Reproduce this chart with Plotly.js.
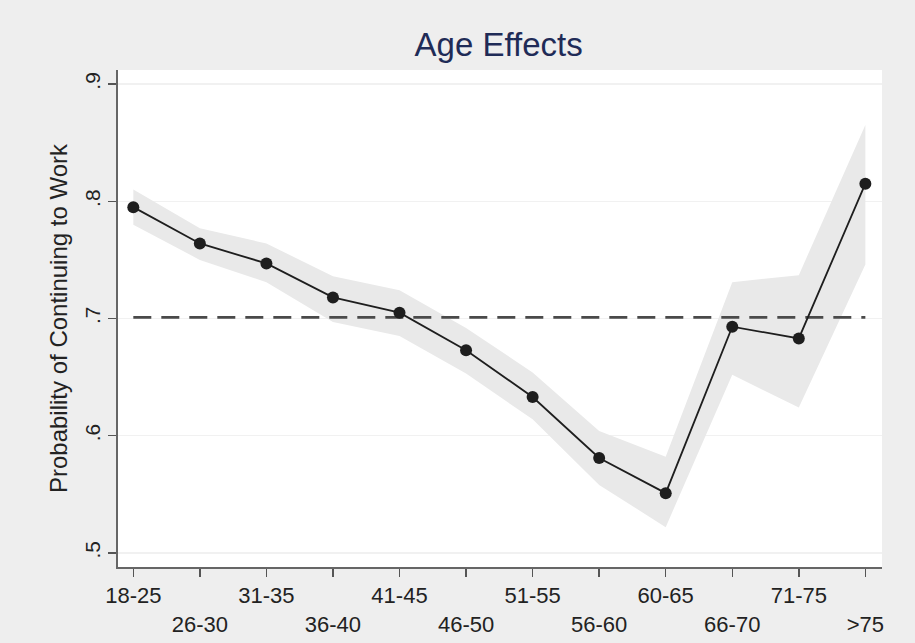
<!DOCTYPE html>
<html>
<head>
<meta charset="utf-8">
<script src="https://cdn.plot.ly/plotly-3.0.1.min.js"></script>
<style>html,body{margin:0;padding:0;background:#eeeeee;}#chart{width:915px;height:643px;}</style>
</head>
<body>
<div id="chart"></div>
<script>
const categories = ["18-25","26-30","31-35","36-40","41-45","46-50","51-55","56-60","60-65","66-70","71-75",">75"];
const estimate = [0.795,0.764,0.747,0.718,0.705,0.673,0.633,0.581,0.551,0.693,0.683,0.815];
const upperCI = [0.810,0.777,0.764,0.736,0.724,0.692,0.654,0.604,0.582,0.731,0.737,0.865];
const lowerCI = [0.780,0.750,0.731,0.697,0.685,0.653,0.614,0.558,0.522,0.652,0.624,0.746];
const baseline = 0.701;
const yTickVals = [0.5,0.6,0.7,0.8,0.9];
const yTickText = [".5",".6",".7",".8",".9"];

const xs = categories.map((c,i)=>i);
const tickText = categories.map((c,i)=> i%2===0 ? c : "<br>"+c);

const band = {
  x: xs.concat(xs.slice().reverse()),
  y: upperCI.concat(lowerCI.slice().reverse()),
  type: 'scatter', mode: 'lines', fill: 'toself',
  fillcolor: '#e9e9e9', line: {width: 0, color: 'rgba(0,0,0,0)'},
  hoverinfo: 'skip', showlegend: false
};
const base = {
  x: [xs[0], xs[xs.length-1]], y: [baseline, baseline],
  type: 'scatter', mode: 'lines',
  line: {color: '#4a4a4a', width: 2.8, dash: '18px,10px'}, showlegend: false
};
const line = {
  x: xs, y: estimate, type: 'scatter', mode: 'lines+markers',
  line: {color: '#1e1e1e', width: 1.8},
  marker: {color: '#1e1e1e', size: 12},
  showlegend: false
};

const layout = {
  width: 915, height: 643,
  paper_bgcolor: '#eeeeee', plot_bgcolor: '#ffffff',
  margin: {l: 118, r: 33, t: 70, b: 76},
  title: {text: 'Age Effects', font: {family: 'Liberation Sans, Arial, sans-serif', size: 33, color: '#1f2b57'}, x: 0.545, xanchor: 'center', y: 0.931, yanchor: 'middle'},
  font: {family: 'Liberation Sans, Arial, sans-serif', color: '#222222'},
  xaxis: {
    range: [-0.23, 11.25], tickvals: xs, ticktext: tickText,
    ticks: 'outside', ticklen: 8, tickwidth: 1.5, tickcolor: '#555',
    showline: true, linecolor: '#666', linewidth: 2,
    showgrid: false, zeroline: false,
    tickfont: {size: 22, color: '#222'}
  },
  yaxis: {
    range: [0.488, 0.912], tickvals: yTickVals, ticktext: yTickText,
    tickangle: -90,
    ticks: 'outside', ticklen: 8, tickwidth: 1.5, tickcolor: '#555',
    showline: true, linecolor: '#666', linewidth: 2,
    showgrid: true, gridcolor: '#f1f1f1', gridwidth: 1.5, zeroline: false,
    tickfont: {size: 21, color: '#222'},
    title: {text: 'Probability of Continuing to Work', font: {size: 24, color: '#222'}, standoff: 6}
  }
};
Plotly.newPlot('chart', [band, base, line], layout, {displayModeBar: false, staticPlot: true});
</script>
</body>
</html>
